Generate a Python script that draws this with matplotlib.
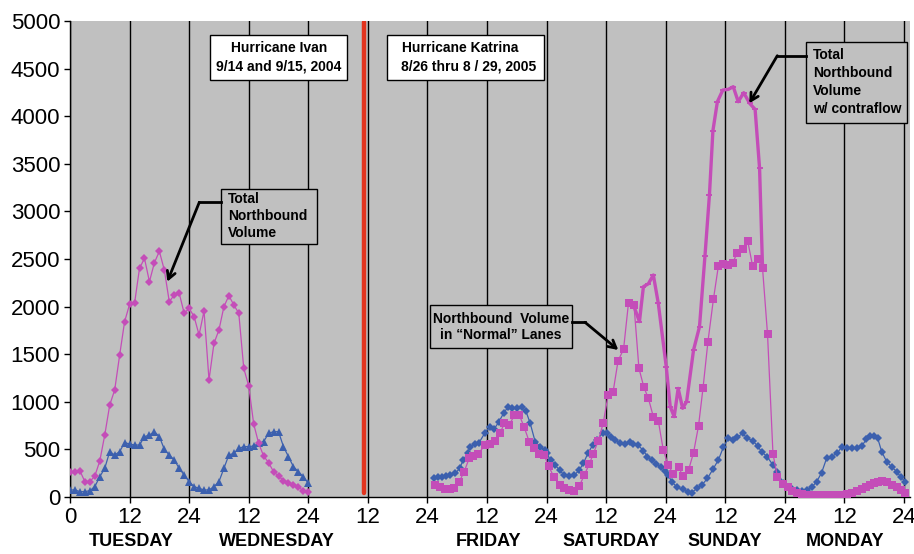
import numpy as np
import matplotlib
matplotlib.use("Agg")
import matplotlib.pyplot as plt
from matplotlib.patches import Rectangle
from matplotlib.transforms import Affine2D

# ---------------- data ----------------
# Hurricane Ivan (hourly, hours 0..48)
ivan_hours = list(range(49))
ivan_total_nb = [266, 266, 275, 161, 161, 221, 378, 651, 966, 1124, 1491, 1842, 2024, 2034,
                 2402, 2507, 2262, 2461, 2581, 2384, 2052, 2122, 2140, 1930, 1982, 1894, 1702,
                 1954, 1229, 1614, 1754, 1999, 2115, 2017, 1930, 1352, 1166, 767, 564, 431, 361,
                 266, 221, 172, 151, 126, 102, 67, 56]
ivan_sb = [74, 74, 56, 56, 67, 109, 214, 301, 477, 441, 477, 571, 557, 546, 546, 634, 651, 686,
           634, 501, 441, 389, 301, 231, 161, 109, 91, 74, 74, 109, 161, 301, 441, 459, 511, 529,
           529, 536, 564, 581, 669, 686, 686, 529, 424, 319, 266, 214, 144]

# Hurricane Katrina
kat_sb_hours = [73.4, 74.2, 75.0, 75.8, 76.6, 77.6, 78.5, 79.2, 80.1, 80.6, 81.5, 82.4, 83.6, 84.6,
                85.4, 86.4, 87.4, 88.3, 89.1, 90.0, 91.0, 91.8, 92.7, 93.7, 94.7, 95.6, 96.0, 96.8,
                97.7, 98.6, 99.5, 100.6, 101.6, 102.6, 103.4, 104.4, 105.3, 106.2, 107.3, 108.1,
                109.0, 109.8, 110.8, 111.8, 112.7, 113.5, 114.4, 115.5, 116.3, 117.2, 118.1, 119.0,
                119.9, 120.5, 121.2, 122.3, 123.4, 124.4, 125.2, 126.3, 127.3, 128.4, 129.5, 130.6,
                131.6, 132.6, 133.5, 134.4, 135.5, 136.4, 137.5, 138.5, 139.3, 140.4, 141.6, 142.5,
                143.6, 144.5, 145.4, 146.4, 147.4, 148.4, 149.4, 150.4, 151.4, 152.4, 153.4, 154.5,
                155.5, 156.5, 157.5, 158.5, 159.5, 160.4, 161.2, 162.0, 162.7, 163.5, 164.5, 165.5,
                166.5, 167.3, 168.2]
kat_sb = [196, 207, 214, 221, 228, 249, 301, 389, 459, 529, 557, 571, 676, 739, 711, 791, 886, 949,
          931, 931, 942, 907, 774, 581, 529, 494, 459, 389, 336, 284, 231, 221, 231, 284, 354, 466,
          546, 599, 676, 669, 634, 599, 571, 557, 581, 557, 546, 487, 424, 389, 347, 312, 277, 231,
          160, 102, 81, 56, 46, 91, 126, 196, 291, 389, 522, 616, 599, 627, 669, 616, 592, 536, 476,
          424, 336, 266, 150, 110, 81, 74, 67, 74, 102, 161, 256, 406, 424, 459, 529, 511, 511, 511,
          536, 606, 641, 641, 616, 476, 371, 319, 266, 214, 161]

kat_nb_hours = [73.5, 74.5, 75.5, 76.5, 77.4, 78.4, 79.4, 80.4, 81.2, 82.2, 83.6, 84.6, 85.6, 86.6,
                87.5, 88.5, 89.5, 90.5, 91.5, 92.5, 93.5, 94.5, 95.5, 96.4, 97.5, 98.6, 99.5, 100.6,
                101.5, 102.6, 103.6, 104.6, 105.4, 106.4, 107.4, 108.4, 109.4, 110.4, 111.5, 112.5,
                113.6, 114.6, 115.6, 116.5, 117.5, 118.5, 119.5, 120.5, 121.5, 122.6, 123.4, 124.6,
                125.6, 126.6, 127.5, 128.5, 129.6, 130.6, 131.6, 132.6, 133.5, 134.4, 135.5, 136.5,
                137.5, 138.6, 139.5, 140.5, 141.6, 142.5, 143.6, 144.6, 145.4, 146.4, 147.4, 148.4,
                149.4, 150.4, 151.4, 152.4, 153.4, 154.5, 155.5, 156.5, 157.5, 158.5, 159.5, 160.4,
                161.2, 162.0, 162.7, 163.5, 164.5, 165.5, 166.5, 167.3, 168.2]
kat_nb_normal = [126, 102, 81, 81, 91, 161, 266, 406, 431, 452, 546, 557, 592, 669, 774, 756, 861,
                 861, 732, 581, 511, 452, 441, 326, 207, 126, 91, 74, 67, 116, 231, 347, 452, 592,
                 774, 1071, 1106, 1432, 1551, 2041, 2017, 1352, 1152, 1037, 844, 802, 494, 336, 242,
                 319, 221, 284, 466, 746, 1141, 1632, 2076, 2426, 2447, 2437, 2461, 2566, 2601, 2692,
                 2426, 2496, 2402, 1712, 452, 214, 140, 100, 60, 40, 30, 25, 22, 20, 20, 20, 20, 22,
                 25, 30, 40, 60, 80, 110, 130, 150, 160, 165, 155, 130, 100, 70, 45]

kat_contra_hours = [113.5, 114.7, 115.5, 116.5, 117.5, 118.5, 120.1, 120.9, 121.7, 122.5, 123.4,
                    124.2, 125.6, 126.8, 127.9, 128.8, 129.5, 130.4, 131.5, 132.6, 133.6, 134.6,
                    135.7, 136.9, 138.0, 138.9, 139.5]
kat_contra_total = [2017, 1842, 2209, 2240, 2332, 2034, 1369, 949, 844, 1141, 932, 1001, 1544, 1789,
                    2532, 3172, 3848, 4152, 4275, 4282, 4310, 4152, 4247, 4135, 4072, 3453, 2402]

storm_divider_hour = 59.3
x_ticks = list(range(0, 169, 12))
x_tick_labels = ["0", "12", "24", "12", "24", "12", "24", "12", "24", "12", "24", "12", "24", "12", "24"]
y_ticks = list(range(0, 5001, 500))
day_labels = ["TUESDAY", "WEDNESDAY", "FRIDAY", "SATURDAY", "SUNDAY", "MONDAY"]

# ---------------- styling ----------------
MAG = "#C44DB8"
BLUE = "#3C60AE"
RED = "#E2341E"
GRAY = "#C0C0C0"
FONT = "Liberation Sans"
plt.rcParams["font.family"] = [FONT, "DejaVu Sans"]

W, H = 914, 554
fig = plt.figure(figsize=(W / 100, H / 100), dpi=100)
ax = fig.add_axes([70 / W, (H - 497) / H, (910 - 70) / W, (497 - 21) / H])
ax.set_facecolor(GRAY)

# pixel transform (top-left origin) for layout items
px = Affine2D().scale(1 / W, -1 / H).translate(0, 1) + fig.transFigure

ax.set_xlim(0, 169.2)
ax.set_ylim(0, 5000)
ax.set_xticks(x_ticks)
ax.set_xticklabels(x_tick_labels)
ax.set_yticks(y_ticks)
ax.tick_params(axis="both", labelsize=16, direction="out", length=4, width=1, color="black")
ax.tick_params(axis="x", pad=3)
ax.tick_params(axis="y", pad=3)
for s in ["top", "right"]:
    ax.spines[s].set_visible(False)
for s in ["left", "bottom"]:
    ax.spines[s].set_color("black")
    ax.spines[s].set_linewidth(1)
ax.grid(axis="x", color="black", linewidth=1)
ax.set_axisbelow(True)

# Ivan
ax.plot(ivan_hours, ivan_sb, color=BLUE, lw=0.9, marker="^", ms=5.6, mew=0, zorder=3)
ax.plot(ivan_hours, ivan_total_nb, color=MAG, lw=0.9, marker="D", ms=4.2, mew=0, zorder=4)

# Katrina
ax.plot(kat_sb_hours, kat_sb, color=BLUE, lw=0.9, marker="D", ms=3.7, mew=0, zorder=3)
ax.plot(kat_nb_hours, kat_nb_normal, color=MAG, lw=0.9, marker="s", ms=6.0, mew=0, zorder=4)
ax.plot(kat_contra_hours, kat_contra_total, color=MAG, lw=2.4, marker="_", ms=4.5, mew=1.4, zorder=5)

# divider
ax.plot([storm_divider_hour, storm_divider_hour], [40, 4990], color=RED, lw=3.2,
        solid_capstyle="round", zorder=6)

# day labels
day_px = [131.5, 277, 488.5, 611, 725, 845]
for lab, xp in zip(day_labels, day_px):
    fig.text(xp, 541.7, lab, transform=px, ha="center", va="center",
             fontsize=13, fontweight="bold", family=FONT)

# title boxes
def box(x0, y0, x1, y1, fc):
    fig.patches.append(Rectangle((x0, y0), x1 - x0, y1 - y0, transform=px, fc=fc,
                                 ec="black", lw=1, zorder=10))

def txt(x, y, s, ha="left"):
    fig.text(x, y, s, transform=px, ha=ha, va="center", fontsize=10,
             fontweight="bold", family=FONT, zorder=11)

box(210, 35, 347, 80, "white")
txt(279, 47.7, "Hurricane Ivan", "center")
txt(279, 66.7, "9/14 and 9/15, 2004", "center")

box(387, 35, 544, 80, "white")
txt(402.5, 47.7, "Hurricane Katrina")
txt(401, 66.7, "8/26 thru 8 / 29, 2005")

# annotation boxes
box(221, 189, 316.7, 244, GRAY)
txt(228, 199.3, "Total")
txt(228, 216, "Northbound")
txt(228, 232.7, "Volume")

box(430, 305, 571.7, 347.7, GRAY)
txt(500.7, 319.3, "Northbound  Volume", "center")
txt(500.7, 335, "in \u201cNormal\u201d Lanes", "center")

box(805.7, 42.3, 907.3, 123.3, GRAY)
txt(812.7, 55, "Total")
txt(812.7, 72.7, "Northbound")
txt(812.7, 90.7, "Volume")
txt(812.7, 109, "w/ contraflow")

# arrows (elbow connectors)
def elbow_arrow(start, elbow, head):
    fig.lines.append(plt.Line2D([start[0], elbow[0]], [start[1], elbow[1]], transform=px,
                                color="black", lw=2, zorder=12))
    ax.annotate("", xy=head, xycoords=px, xytext=elbow, textcoords=px,
                arrowprops=dict(arrowstyle="->,head_length=0.55,head_width=0.3",
                                color="black", lw=2, shrinkA=0, shrinkB=0),
                zorder=12, annotation_clip=False)

elbow_arrow((221, 202.3), (199.3, 202.3), (167.3, 281.7))
elbow_arrow((571.7, 322.3), (585, 322.3), (618.3, 350))
elbow_arrow((805.7, 55.7), (777.3, 55.7), (749.3, 103.3))

fig.savefig("out.png", dpi=100, facecolor="white")
